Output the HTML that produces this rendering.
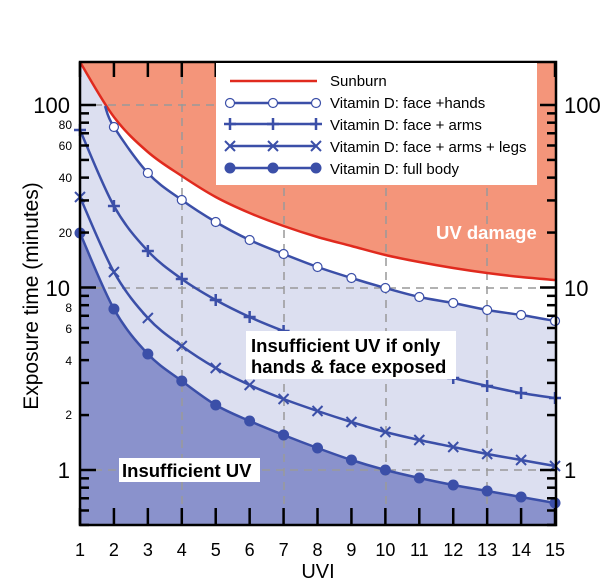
<!DOCTYPE html>
<html><head><meta charset="utf-8"><style>
body{margin:0;background:#fff;width:600px;height:582px;overflow:hidden}
svg{display:block;font-family:"Liberation Sans",Arial,sans-serif}
</style></head><body>
<svg id="s" width="600" height="582" viewBox="0 0 600 582" xmlns="http://www.w3.org/2000/svg">
<rect x="80" y="62" width="476" height="463" fill="#f4957a"/>
<g id="dyn"></g>
<g stroke="#999" stroke-width="1.5" stroke-dasharray="8,6" fill="none">
<line x1="80" y1="105" x2="556" y2="105"/><line x1="80" y1="288" x2="556" y2="288"/><line x1="80" y1="470" x2="556" y2="470"/>
<line x1="182" y1="62" x2="182" y2="525"/><line x1="284" y1="62" x2="284" y2="525"/><line x1="386" y1="62" x2="386" y2="525"/><line x1="487" y1="62" x2="487" y2="525"/>
</g>
<g id="ser"></g>
<g id="ticks" stroke="#000" stroke-width="2.5"></g>
<rect x="80" y="62" width="476" height="463" fill="none" stroke="#000" stroke-width="2.5"/>
<rect x="216" y="63" width="321" height="122" fill="#fff"/>
<g font-size="15" fill="#000">
<text x="330" y="86">Sunburn</text>
<text x="330" y="108">Vitamin D: face +hands</text>
<text x="330" y="130">Vitamin D: face + arms</text>
<text x="330" y="152">Vitamin D: face + arms + legs</text>
<text x="330" y="174">Vitamin D: full body</text>
</g>
<line x1="230" y1="81" x2="317" y2="81" stroke="#e02a1e" stroke-width="2.5"/>
<g id="leg"></g>
<text x="436" y="239" font-size="18.5" font-weight="bold" fill="#fff">UV damage</text>
<rect x="246" y="331" width="210" height="48" fill="#fff"/>
<text x="251" y="352" font-size="18.5" font-weight="bold">Insufficient UV if only</text>
<text x="251" y="373" font-size="18.5" font-weight="bold">hands &amp; face exposed</text>
<rect x="119" y="458" width="141" height="24" fill="#fff"/>
<text x="122" y="477" font-size="18.5" font-weight="bold">Insufficient UV</text>
<g font-size="22" text-anchor="end"><text x="70" y="113">100</text><text x="70" y="296">10</text><text x="70" y="478">1</text></g>
<g font-size="22"><text x="564" y="113">100</text><text x="564" y="296">10</text><text x="564" y="478">1</text></g>
<g font-size="12" text-anchor="end"><text x="72" y="129">80</text><text x="72" y="150">60</text><text x="72" y="182">40</text><text x="72" y="237">20</text><text x="72" y="312">8</text><text x="72" y="333">6</text><text x="72" y="365">4</text><text x="72" y="419">2</text></g>
<g id="xl" font-size="18" text-anchor="middle"></g>
<text x="318" y="578" font-size="20" text-anchor="middle">UVI</text>
<text transform="translate(38,296) rotate(-90)" font-size="21" text-anchor="middle">Exposure time (minutes)</text>
</svg>
<script>
var X=function(u){return 80+(u-1)*33.93};
var fh=[null,127,173,200,222,240,254,267,278,288,297,303,310,315,321];
var fa=[130,206,251,279,300,317,331,343,353,362,370,378,386,393,398];
var fl=[197,272,318,346,368,385,399,411,422,432,440,447,454,460,466];
var fb=[233,309,354,381,405,421,435,448,460,470,478,485,491,497,503];
var sb=[62,117,152,176,197,213,226,237,246,255,262,268,273,277,280];
function cr(pts){var d="M"+pts[0][0]+","+pts[0][1];for(var i=0;i<pts.length-1;i++){var p0=pts[i-1]||pts[i],p1=pts[i],p2=pts[i+1],p3=pts[i+2]||p2;d+=" C"+(p1[0]+(p2[0]-p0[0])/6)+","+(p1[1]+(p2[1]-p0[1])/6)+" "+(p2[0]-(p3[0]-p1[0])/6)+","+(p2[1]-(p3[1]-p1[1])/6)+" "+p2[0]+","+p2[1];}return d;}
function pts(a,s){var r=[];for(var i=0;i<a.length;i++)if(a[i]!=null)r.push([X(i+1),a[i]]);if(s)r.unshift(s);return r;}
var sP=pts(sb);var spd=cr(sP);
var fhP=pts(fh,[105,106]);var fhd=cr(fhP);var fbd=cr(pts(fb));
var swP=[[105,106]].concat(sP.slice(1));
var rev=fhP.slice().reverse();
document.getElementById('dyn').innerHTML='<path d="'+spd+' L556,525 L80,525 Z" fill="#dcdff0"/>'+
'<path d="'+cr(swP)+' '+cr(rev).replace(/^M/,"L")+' Z" fill="#fff"/>'+
'<path d="'+fbd+' L556,525 L80,525 Z" fill="#8a92cc"/>';
var c="#3b4fa8",s='';
s+='<path d="'+spd+'" fill="none" stroke="#e02a1e" stroke-width="2.5"/>';
[fhd,cr(pts(fa)),cr(pts(fl)),fbd].forEach(function(d){s+='<path d="'+d+'" fill="none" stroke="'+c+'" stroke-width="2.5"/>';});
function mk(t,x,y){if(t==0)return '<circle cx="'+x+'" cy="'+y+'" r="4.5" fill="#fff" stroke="'+c+'" stroke-width="1.2"/>';
if(t==1)return '<path d="M'+(x-6)+','+y+'h12M'+x+','+(y-6)+'v12" stroke="'+c+'" stroke-width="2.5"/>';
if(t==2)return '<path d="M'+(x-5)+','+(y-5)+'l10,10M'+(x-5)+','+(y+5)+'l10,-10" stroke="'+c+'" stroke-width="2"/>';
return '<circle cx="'+x+'" cy="'+y+'" r="5.5" fill="'+c+'"/>';}
[fh,fa,fl,fb].forEach(function(a,t){a.forEach(function(y,i){if(y!=null)s+=mk(t,X(i+1),y);});});
document.getElementById('ser').innerHTML=s;
var l='';[[0,103],[1,124],[2,146],[3,168]].forEach(function(q){l+='<line x1="230" y1="'+q[1]+'" x2="317" y2="'+q[1]+'" stroke="'+c+'" stroke-width="2.5"/>';[230,273,316].forEach(function(x){l+=mk(q[0],x,q[1]);});});
document.getElementById('leg').innerHTML=l;
var Y=function(v){return 470-182.5*Math.log10(v)};
var tk='',xl='';
for(var u=1;u<=15;u++){var x=X(u);tk+='<line x1="'+x+'" y1="62" x2="'+x+'" y2="77"/><line x1="'+x+'" y1="525" x2="'+x+'" y2="508"/>';xl+='<text x="'+x+'" y="556">'+u+'</text>';}
[0.1,1,10,100].forEach(function(d){for(var k=1;k<10;k++){var v=d*k;if(v<0.47||v>172)continue;var yy=Y(v);var L=(k==1)?16:9;tk+='<line x1="80" y1="'+yy+'" x2="'+(80+L)+'" y2="'+yy+'"/><line x1="556" y1="'+yy+'" x2="'+(556-L)+'" y2="'+yy+'"/>';}});
document.getElementById('ticks').innerHTML=tk;
document.getElementById('xl').innerHTML=xl;
</script>
</body></html>
